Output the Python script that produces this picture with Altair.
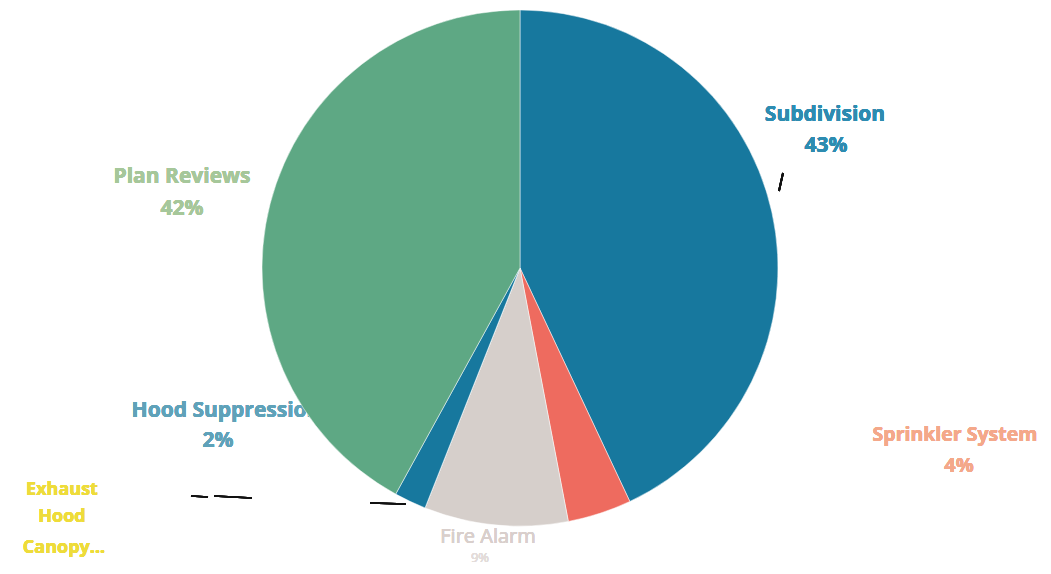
import altair as alt
import pandas as pd

categories = ["Subdivision", "Sprinkler System", "Fire Alarm", "Exhaust Hood Canopy", "Hood Suppression", "Plan Reviews"]
percents = [43, 4, 9, 0, 2, 42]
colors = ["#17789e", "#ee6b5f", "#d6cfcb", "#f2df45", "#17789e", "#5ea884"]

df = pd.DataFrame({"category": categories, "pct": percents, "order": list(range(len(categories)))})

FONT = "Open Sans"

pie = alt.Chart(df).mark_arc(outerRadius=258, stroke="white", strokeWidth=0.5).encode(
    theta=alt.Theta("pct:Q", stack=True),
    order=alt.Order("order:Q"),
    color=alt.Color("category:N", scale=alt.Scale(domain=categories, range=colors), legend=None),
    x=alt.value(512),
    y=alt.value(260),
)

def label(txt, x, y, color, size=20, weight="normal", opacity=1.0):
    return alt.Chart(df).mark_text(
        text=txt, font=FONT, fontSize=size, fontWeight=weight, color=color,
        align="center", baseline="middle", opacity=opacity,
    ).encode(x=alt.value(x), y=alt.value(y))

labels_under = [
    label("Hood Suppression", 218, 403, "#5fa2b9", size=21, weight="bold"),
]
labels_over = [
    label("Subdivision", 817, 107, "#2d8cb1", size=21, weight="bold"),
    label(f"{percents[0]}%", 818, 138, "#2d8cb1", size=21, weight="bold"),
    label("Plan Reviews", 174, 169, "#a6c79a", size=21, weight="bold"),
    label(f"{percents[5]}%", 174, 201, "#a6c79a", size=21, weight="bold"),
    label(f"{percents[4]}%", 210, 433, "#5fa2b9", size=21, weight="bold"),
    label("Sprinkler System", 947, 427, "#f4a88a", size=19.5, weight="bold"),
    label(f"{percents[1]}%", 951, 458, "#f4a88a", size=20, weight="bold"),
    label("Fire Alarm", 480, 529, "#d9cfcc", size=20),
    label(f"{percents[2]}%", 472, 550, "#e3dcda", size=13),
    label("Exhaust", 54, 482, "#eedc3a", size=18, weight="bold"),
    label("Hood", 54, 509, "#eedc3a", size=18, weight="bold"),
    label("Canopy...", 56, 540, "#eedc3a", size=18, weight="bold"),
]

def seg(x1, y1, x2, y2, w=1.5):
    return alt.Chart(df).mark_rule(color="#111111", strokeWidth=w).encode(
        x=alt.value(x1), y=alt.value(y1), x2=alt.value(x2), y2=alt.value(y2)
    )

segs = [
    seg(183, 488, 200, 489),
    seg(206, 488, 244, 490),
    seg(362, 495, 398, 496),
    seg(775, 165, 771, 183, 1.8),
]

chart = alt.layer(*labels_under, pie, *labels_over, *segs).properties(
    width=1035, height=558, padding=0,
    autosize=alt.AutoSizeParams(type="fit", contains="padding"),
).configure_view(stroke=None)

chart.save("out.html", embed_options={"renderer": "svg", "actions": False})
